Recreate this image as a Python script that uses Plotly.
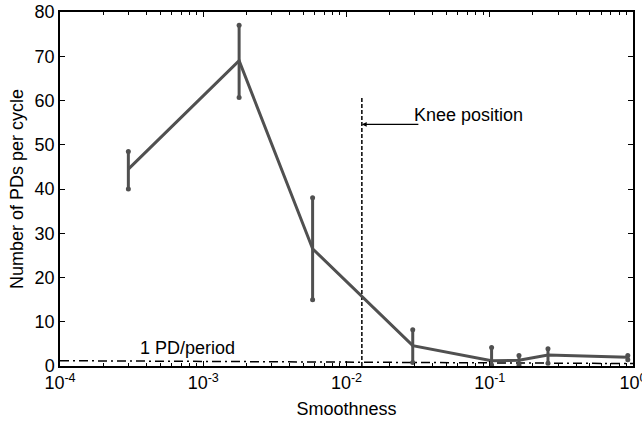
import math
import plotly.graph_objects as go

smoothness = [3e-4, 1.78e-3, 5.8e-3, 0.029, 0.103, 0.16, 0.255, 0.92]
pd_mean = [44.5, 69.0, 26.5, 4.6, 1.2, 1.3, 2.5, 2.0]
err_upper = [48.5, 77.0, 38.0, 8.2, 4.2, 2.4, 3.9, 2.4]
err_lower = [40.0, 60.7, 15.0, 0.8, 0.2, 0.2, 0.6, 1.4]

knee_x = 0.0128
knee_top = 60.6
knee_arrow_y = 54.6
ref_x = [1e-4, 1.0]
ref_y = [1.2, 0.55]

gray = "#505050"
font = "Liberation Sans, Arial, sans-serif"

fig = go.Figure()

fig.add_trace(go.Scatter(x=ref_x, y=ref_y, mode="lines",
                         line=dict(color="black", width=1.5, dash="9px,4px,2px,4px"),
                         showlegend=False, hoverinfo="skip"))
fig.add_trace(go.Scatter(x=[knee_x, knee_x], y=[0, knee_top], mode="lines",
                         line=dict(color="black", width=1.5, dash="4px,2px"),
                         showlegend=False, hoverinfo="skip"))

for xv, lo, hi in zip(smoothness, err_lower, err_upper):
    fig.add_trace(go.Scatter(x=[xv, xv], y=[lo, hi], mode="lines+markers",
                             line=dict(color=gray, width=3),
                             marker=dict(color=gray, size=5),
                             showlegend=False, hoverinfo="skip"))

fig.add_trace(go.Scatter(x=smoothness, y=pd_mean, mode="lines",
                         line=dict(color=gray, width=3),
                         showlegend=False))

fig.add_annotation(x=math.log10(knee_x), y=knee_arrow_y, ax=58, ay=0,
                   xref="x", yref="y", text="", showarrow=True,
                   arrowhead=2, arrowsize=0.8, arrowwidth=1.2, arrowcolor="black")
fig.add_annotation(xref="paper", yref="y", x=(412 - 60) / 573, y=56.8,
                   xanchor="left", yanchor="middle", text="Knee position",
                   showarrow=False, font=dict(size=18, color="black", family=font))
fig.add_annotation(xref="paper", yref="y", x=(187 - 60) / 573, y=4.1,
                   xanchor="center", yanchor="middle", text="1 PD/period",
                   showarrow=False, font=dict(size=18, color="black", family=font))

fig.update_layout(
    width=642, height=422,
    margin=dict(l=60, r=9, t=12, b=56),
    paper_bgcolor="white", plot_bgcolor="white",
    font=dict(family=font, size=18, color="black"),
    showlegend=False,
)
fig.update_xaxes(type="log", range=[-4, 0], automargin=False,
                 tickvals=[1e-4, 1e-3, 1e-2, 1e-1, 1],
                 ticktext=["10<sup>-4</sup>", "10<sup>-3</sup>", "10<sup>-2</sup>",
                           "10<sup>-1</sup>", "10<sup>0</sup>"],
                 ticklabeloverflow="allow",
                 ticks="inside", ticklen=5, tickcolor="black",
                 minor=dict(ticks="inside", ticklen=3, tickcolor="black",
                            tickvals=[m * 10 ** e for e in range(-4, 0) for m in range(2, 10)]),
                 showline=True, linecolor="black", linewidth=1.5, mirror="ticks",
                 showgrid=False, zeroline=False,
                 title=dict(text="Smoothness", standoff=10, font=dict(size=18)),
                 tickfont=dict(size=18))
fig.update_yaxes(range=[0, 80], automargin=False, tickvals=list(range(0, 81, 10)),
                 ticks="inside", ticklen=5, tickcolor="black",
                 showline=True, linecolor="black", linewidth=1.5, mirror="ticks",
                 showgrid=False, zeroline=False,
                 title=dict(text="Number of PDs per cycle", standoff=6, font=dict(size=18)),
                 tickfont=dict(size=18))

fig.write_html("out.html")
